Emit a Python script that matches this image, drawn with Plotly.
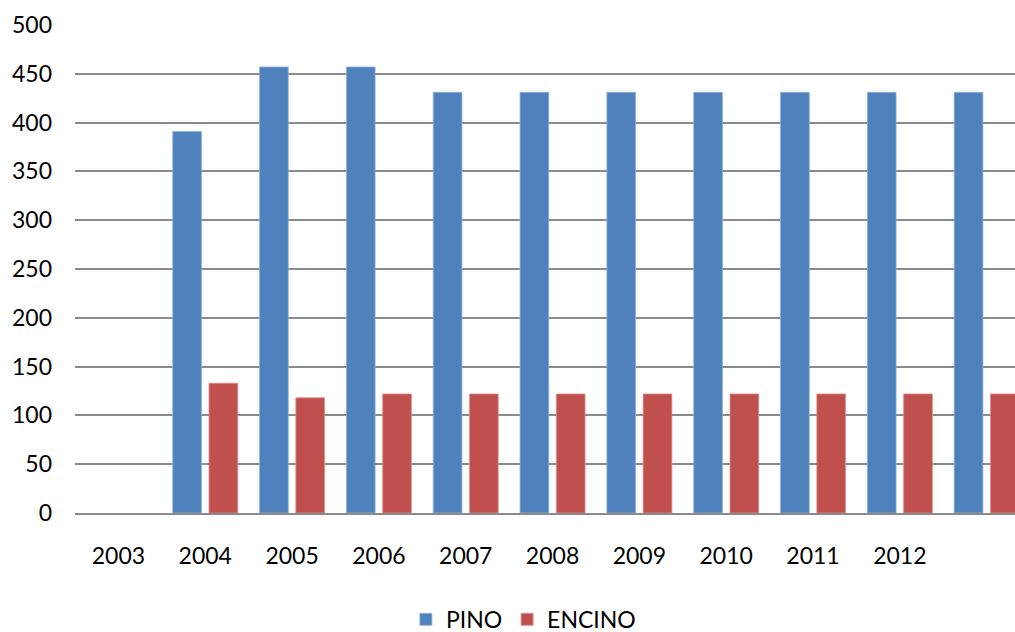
import plotly.graph_objects as go

# Categories (the last group carries no year label)
years = ["2003", "2004", "2005", "2006", "2007", "2008", "2009", "2010", "2011", "2012", ""]
pino = [None, 391, 457, 457, 431, 431, 431, 431, 431, 431, 431]
encino = [None, 133, 118, 122, 122, 122, 122, 122, 122, 122, 122]
y_ticks = [0, 50, 100, 150, 200, 250, 300, 350, 400, 450, 500]

positions = list(range(len(years)))
font_family = "Lato, 'Open Sans', sans-serif"

fig = go.Figure()
fig.add_trace(go.Bar(
    x=positions, y=pino, name="PINO",
    marker=dict(color="#4F81BD", line=dict(color="#8FAEDA", width=0.8)),
))
fig.add_trace(go.Bar(
    x=positions, y=encino, name="ENCINO",
    marker=dict(color="#C0504D", line=dict(color="#DB8E8C", width=0.8)),
))

fig.update_layout(
    width=1015, height=632,
    margin=dict(l=75, r=0, t=25, b=119, autoexpand=False),
    paper_bgcolor="white", plot_bgcolor="white",
    barmode="group", bargap=0.164, bargroupgap=0.209,
    font=dict(family=font_family, size=23, color="#000000"),
    showlegend=True,
    legend=dict(
        orientation="h", x=0.352, xanchor="left", y=-0.218, yanchor="middle",
        font=dict(family=font_family, size=23, color="#000000"),
        bgcolor="rgba(0,0,0,0)", itemwidth=30,
    ),
    xaxis=dict(
        range=[-0.5, 10.326],
        tickmode="array", tickvals=positions[:10], ticktext=years[:10],
        showgrid=False, zeroline=False,
        showline=True, linecolor="#8A8A8A", linewidth=1.5,
        ticks="", ticklabelstandoff=22,
    ),
    yaxis=dict(
        range=[0, 500],
        tickmode="array", tickvals=y_ticks,
        showgrid=True, gridcolor="#8A8A8A", gridwidth=1.5,
        zeroline=False, showline=False,
        ticks="", ticklabelstandoff=22,
    ),
)

fig.write_html("out.html")
